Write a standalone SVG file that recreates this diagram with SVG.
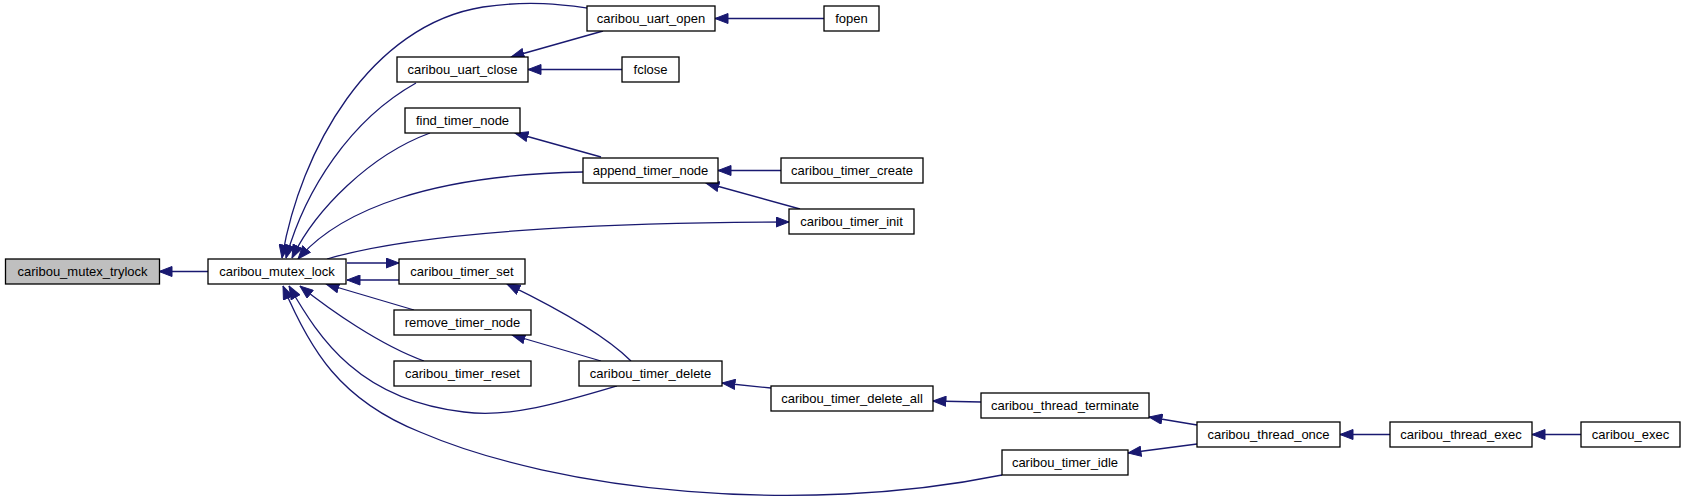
<svg xmlns="http://www.w3.org/2000/svg" width="1685" height="501" viewBox="0 0 1685 501">
<style>
.n rect{fill:#ffffff;stroke:#000000;stroke-width:1.3}
.n.hl rect{fill:#bfbfbf}
.n text{font-family:"Liberation Sans",Arial,Helvetica,sans-serif;font-size:13px;fill:#000000;text-anchor:middle}
.e path{fill:none;stroke:#191970;stroke-width:1.3;marker-start:url(#ah)}
</style>
<defs>
<marker id="ah" markerUnits="userSpaceOnUse" markerWidth="14" markerHeight="11" viewBox="0 0 14 11" refX="13.5" refY="5.5" orient="auto-start-reverse">
<path d="M0.5,0.5 L13.5,5.5 L0.5,10.5 z" fill="#191970" stroke="#191970" stroke-width="1"/>
</marker>
</defs>
<rect width="1685" height="501" fill="#ffffff"/>
<g id="edges" class="e">
<path d="M159,271.5 L208,271.5"/>
<path d="M282,258 C300,150 370,25 483,7 C530,0 565,5 587,8"/>
<path d="M286,258 C305,190 350,120 416,83"/>
<path d="M511,57 L603,31"/>
<path d="M528,69.5 L622,69.5"/>
<path d="M715,18.5 L824,18.5"/>
<path d="M292,258 C315,210 370,155 430,133"/>
<path d="M515,133 L601,157"/>
<path d="M298,259 C340,210 430,175 583,172"/>
<path d="M718,170.5 L781,170.5"/>
<path d="M706,183 L800,209"/>
<path d="M789,222 C650,222 430,228 327,259"/>
<path d="M399,263 L347,263"/>
<path d="M347,280 L399,280"/>
<path d="M326,284 L414,310"/>
<path d="M300,286 C330,310 380,345 424,361"/>
<path d="M289,286 C320,340 360,400 464,412 C510,418 560,403 617,386"/>
<path d="M283,286 C310,350 340,400 420,432 C560,492 800,516 1002,475"/>
<path d="M507,284 C540,300 600,330 631,361"/>
<path d="M512,335 L601,361"/>
<path d="M722,383 L771,388"/>
<path d="M933,401 L981,402"/>
<path d="M1149,417 L1197,425"/>
<path d="M1128,453 L1197,444"/>
<path d="M1340,434.5 L1390,434.5"/>
<path d="M1532,434.5 L1581,434.5"/>
</g>
<g id="caribou_mutex_trylock" class="n hl"><rect x="5.5" y="259" width="154" height="25"/><text x="82.5" y="276">caribou_mutex_trylock</text></g>
<g id="caribou_mutex_lock" class="n"><rect x="208" y="259" width="138" height="25"/><text x="277" y="276">caribou_mutex_lock</text></g>
<g id="caribou_uart_open" class="n"><rect x="587" y="6" width="128" height="25"/><text x="651" y="23">caribou_uart_open</text></g>
<g id="fopen" class="n"><rect x="824" y="6" width="55" height="25"/><text x="851.5" y="23">fopen</text></g>
<g id="caribou_uart_close" class="n"><rect x="397" y="57" width="131" height="25"/><text x="462.5" y="74">caribou_uart_close</text></g>
<g id="fclose" class="n"><rect x="622" y="57" width="57" height="25"/><text x="650.5" y="74">fclose</text></g>
<g id="find_timer_node" class="n"><rect x="405" y="108" width="115" height="25"/><text x="462.5" y="125">find_timer_node</text></g>
<g id="append_timer_node" class="n"><rect x="583" y="158" width="135" height="25"/><text x="650.5" y="175">append_timer_node</text></g>
<g id="caribou_timer_create" class="n"><rect x="781" y="158" width="142" height="25"/><text x="852" y="175">caribou_timer_create</text></g>
<g id="caribou_timer_init" class="n"><rect x="789" y="209" width="125" height="25"/><text x="851.5" y="226">caribou_timer_init</text></g>
<g id="caribou_timer_set" class="n"><rect x="399" y="259" width="126" height="25"/><text x="462" y="276">caribou_timer_set</text></g>
<g id="remove_timer_node" class="n"><rect x="394" y="310" width="137" height="25"/><text x="462.5" y="327">remove_timer_node</text></g>
<g id="caribou_timer_reset" class="n"><rect x="394" y="361" width="137" height="25"/><text x="462.5" y="378">caribou_timer_reset</text></g>
<g id="caribou_timer_delete" class="n"><rect x="579" y="361" width="143" height="25"/><text x="650.5" y="378">caribou_timer_delete</text></g>
<g id="caribou_timer_delete_all" class="n"><rect x="771" y="386" width="162" height="25"/><text x="852" y="403">caribou_timer_delete_all</text></g>
<g id="caribou_thread_terminate" class="n"><rect x="981" y="393" width="168" height="25"/><text x="1065" y="410">caribou_thread_terminate</text></g>
<g id="caribou_timer_idle" class="n"><rect x="1002" y="450" width="126" height="25"/><text x="1065" y="467">caribou_timer_idle</text></g>
<g id="caribou_thread_once" class="n"><rect x="1197" y="422" width="143" height="25"/><text x="1268.5" y="439">caribou_thread_once</text></g>
<g id="caribou_thread_exec" class="n"><rect x="1390" y="422" width="142" height="25"/><text x="1461" y="439">caribou_thread_exec</text></g>
<g id="caribou_exec" class="n"><rect x="1581" y="422" width="99" height="25"/><text x="1630.5" y="439">caribou_exec</text></g>
</svg>
